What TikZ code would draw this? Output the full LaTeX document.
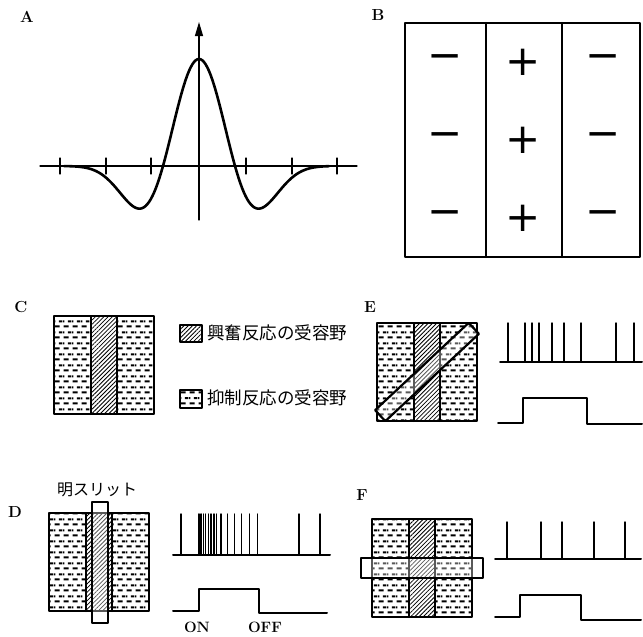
\documentclass[tikz,border=0pt]{standalone}
\usepackage{fontspec}
\newfontfamily\jpfont{Noto Sans CJK JP}
\newfontfamily\signfont{DejaVu Sans}
\usetikzlibrary{arrows.meta,patterns.meta}

\pgfdeclarepattern{
  name=hdashes,
  type=uncolored,
  bottom left={\pgfpoint{0pt}{0pt}},
  top right={\pgfpoint{9pt}{11pt}},
  tile size={\pgfpoint{9pt}{11pt}},
  code={
    \pgfsetlinewidth{2.2pt}
    \pgfpathmoveto{\pgfpoint{0.8pt}{2.75pt}}
    \pgfpathlineto{\pgfpoint{6pt}{2.75pt}}
    \pgfpathmoveto{\pgfpoint{5.3pt}{8.25pt}}
    \pgfpathlineto{\pgfpoint{9pt}{8.25pt}}
    \pgfpathmoveto{\pgfpoint{0pt}{8.25pt}}
    \pgfpathlineto{\pgfpoint{1.5pt}{8.25pt}}
    \pgfusepath{stroke}
  }
}

\begin{document}
\begin{tikzpicture}[
    x=1pt,y=-1pt,
    line cap=round,
    line join=round,
    panel/.style={font=\fontsize{16}{18}\selectfont\bfseries, inner sep=0pt},
    jptext/.style={font=\jpfont\fontsize{17.5}{20}\selectfont, inner sep=0pt},
    frame/.style={draw=black, line width=2pt},
    inhib/.style={pattern=hdashes},
    excit/.style={pattern={Lines[angle=45,distance=3pt,line width=0.8pt]}},
    sign/.style={font=\signfont\fontsize{42}{42}\selectfont, inner sep=0pt},
    spike/.style={draw=black, line width=1.4pt},
    trace/.style={draw=black, line width=2pt},
    slit/.style={draw=black, line width=2.2pt, fill=white, fill opacity=0.35}
]
\useasboundingbox (0,0) rectangle (643,637);

% A
\node[panel] (labA) at (27,17) {A};
\coordinate (xl) at (40,166);
\coordinate (xr) at (357,166);
\coordinate (yb) at (199,220);
\coordinate (yt) at (199,22);
\draw[line width=1.2pt] (xl) -- (xr);
\draw[line width=1.2pt, -{Triangle[length=14pt,width=8pt]}] (yb) -- (yt);
\foreach \t in {60,106,151,246,292,337} {
    \draw[line width=1.2pt] (\t,158) -- (\t,174);
}
\draw[line width=2.6pt] plot[domain=-135:130, samples=160]
    ({199+\x}, {166-107*(1-(\x/36)*(\x/36))*exp(-0.5*(\x/36)*(\x/36))*exp(-(\x/105)*(\x/105)*(\x/105)*(\x/105))});

% B
\node[panel] (labB) at (378,15) {B};
\draw[line width=2.6pt] (405,23) rectangle (640,257);
\draw[line width=2.2pt] (486,23) -- (486,257) (562,23) -- (562,257);
\foreach \r in {62,140,218} {
    \node[sign] (ml\r) at (445,\r) {−};
    \node[sign] (pc\r) at (523,\r) {+};
    \node[sign] (mr\r) at (603,\r) {−};
}

% receptive fields C, D, E, F
\foreach \bx/\by in {54/316, 49/513, 377/323, 372/519} {
    \fill[inhib] (\bx,\by) rectangle +(37,98);
    \fill[excit] (\bx+37,\by) rectangle +(26,98);
    \fill[inhib] (\bx+63,\by) rectangle +(37,98);
    \draw[frame] (\bx,\by) rectangle +(100,98);
    \draw[frame] (\bx+37,\by) -- +(0,98) (\bx+63,\by) -- +(0,98);
}

% C
\node[panel] (labC) at (21,307) {C};
\draw[frame, excit] (180,325) rectangle (202,342);
\node[jptext, anchor=west] (legE) at (207,333) {興奮反応の受容野};
\draw[frame, inhib] (180,390) rectangle (202,408);
\node[jptext, anchor=west] (legI) at (207,398) {抑制反応の受容野};

% D
\node[panel] (labD) at (15,512) {D};
\node[jptext, font=\jpfont\fontsize{16}{19}\selectfont] (slitlab) at (97,490) {明スリット};
\draw[slit] (92,502) rectangle (108,623);
\draw[trace] (173,555) -- (330,555);
\foreach \s in {181,198.3,200,201.7,203.3,205.7,208.3,211,214,216.7,221,227.7,234.3,241.7,249.3,257.3,299,320} {
    \draw[spike] (\s,555) -- (\s,514);
}
\draw[trace] (173,611) -- (199,611) -- (199,589) -- (259,589) -- (259,613) -- (327,613);
\node[panel, font=\fontsize{15}{17}\selectfont\bfseries] (on) at (197,627) {ON};
\node[panel, font=\fontsize{15}{17}\selectfont\bfseries] (off) at (265,627) {OFF};

% E
\node[panel] (labE) at (370,307) {E};
\node[slit, rotate=43, minimum width=128pt, minimum height=15pt] (slitE) at (427,372) {};
\draw[trace] (500,362) -- (642,362);
\foreach \s in {508,525,532,539,552,564,581,616,634} {
    \draw[spike] (\s,362) -- (\s,323);
}
\draw[trace] (498,423) -- (523,423) -- (523,398) -- (587,398) -- (587,424) -- (642,424);

% F
\node[panel] (labF) at (362,495) {F};
\draw[slit] (361,558) rectangle (483,578);
\draw[trace] (495,559) -- (641,559);
\foreach \s in {507,541,562,594,625} {
    \draw[spike] (\s,559) -- (\s,522);
}
\draw[trace] (495,617) -- (520,617) -- (520,595) -- (581,595) -- (581,620) -- (641,620);

\end{tikzpicture}
\end{document}
